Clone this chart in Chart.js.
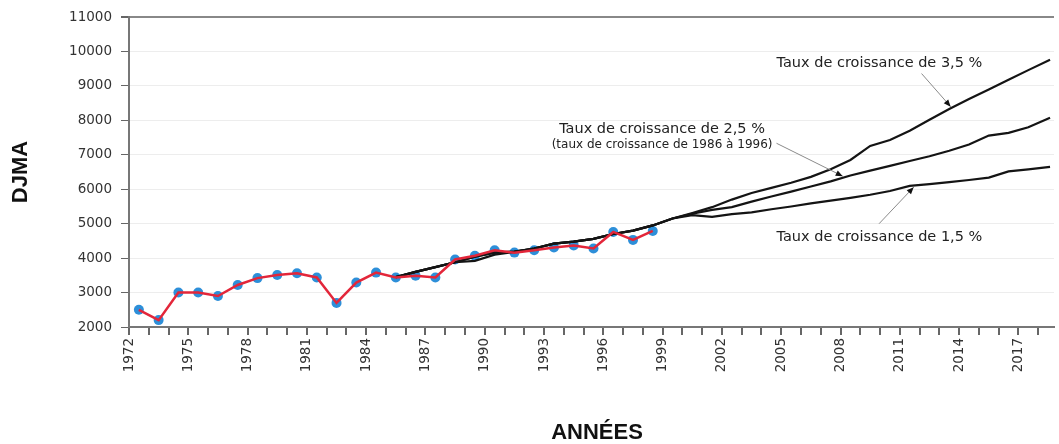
<!DOCTYPE html>
<html>
<head>
<meta charset="utf-8">
<script src="https://cdn.jsdelivr.net/npm/chart.js@4.4.1/dist/chart.umd.min.js"></script>
<style>
body{margin:0;background:#fff}
#wrap{width:1059px;height:444px}
</style>
</head>
<body>
<div id="wrap"><canvas id="djma" width="1059" height="444"></canvas></div>
<script>

// DJMA observe (points bleus + ligne rouge)
const histYears = [1972.5, 1973.5, 1974.5, 1975.5, 1976.5, 1977.5, 1978.5, 1979.5, 1980.5, 1981.5,
    1982.5, 1983.5, 1984.5, 1985.5, 1986.5, 1987.5, 1988.5, 1989.5, 1990.5, 1991.5,
    1992.5, 1993.5, 1994.5, 1995.5, 1996.5, 1997.5, 1998.5];
const histValues = [2500, 2200, 3000, 3000, 2900, 3220, 3420, 3510, 3560, 3440,
    2700, 3290, 3580, 3440, 3490, 3440, 3960, 4070, 4230, 4160,
    4230, 4310, 4370, 4280, 4760, 4530, 4790];

// projections (lignes noires)
const projYears = [1985.5, 1986.5, 1987.5, 1988.5, 1989.5, 1990.5, 1991.5, 1992.5, 1993.5, 1994.5,
    1995.5, 1996.5, 1997.5, 1998.5, 1999.5, 2000.5, 2001.5, 2002.5, 2003.5, 2004.5,
    2005.5, 2006.5, 2007.5, 2008.5, 2009.5, 2010.5, 2011.5, 2012.5, 2013.5, 2014.5,
    2015.5, 2016.5, 2017.5, 2018.6];
const growth35 = [3450, 3600, 3740, 3880, 4040, 4160, 4190, 4280, 4420, 4480,
    4560, 4700, 4800, 4950, 5150, 5310, 5480, 5700, 5890, 6040,
    6190, 6360, 6580, 6850, 7260, 7430, 7700, 8020, 8330, 8620,
    8900, 9180, 9460, 9760];
const growth25 = [3450, 3600, 3740, 3880, 4040, 4160, 4190, 4280, 4420, 4480,
    4560, 4700, 4800, 4950, 5150, 5290, 5400, 5480, 5640, 5790,
    5930, 6080, 6230, 6400, 6540, 6680, 6820, 6960, 7120, 7300,
    7560, 7640, 7800, 8080];
const growth15 = [3450, 3600, 3740, 3880, 3920, 4100, 4180, 4280, 4420, 4480,
    4560, 4700, 4800, 4950, 5150, 5250, 5200, 5280, 5330, 5420,
    5500, 5590, 5670, 5750, 5840, 5950, 6100, 6150, 6210, 6270,
    6340, 6520, 6580, 6650];

const yearLabels = ['1972', '1975', '1978', '1981', '1984', '1987', '1990', '1993', '1996',
    '1999', '2002', '2005', '2008', '2011', '2014', '2017'];

function pts(xs, ys){
    return xs.map((x, i) => ({x: x, y: ys[i]}));
}

// textes + fleches, places en coordonnees du graphique
const notes = [
    {lines: [['Taux de croissance de 3,5 %', 14.5]], at: [2004.76, 9670], align: 'left',
     from: [2012.1, 9360], to: [2013.57, 8400]},
    {lines: [['Taux de croissance de 2,5 %', 14.5], ['(taux de croissance de 1986 à 1996)', 12]],
     at: [1998.97, 7740], align: 'center', gap: 15.5,
     from: [2004.76, 7336], to: [2008.11, 6380]},
    {lines: [['Taux de croissance de 1,5 %', 14.5]], at: [2004.76, 4596], align: 'left',
     from: [2009.95, 5000], to: [2011.7, 6060]}
];

const extras = {
    id: 'extras',
    afterDraw(chart){
        let c = chart.ctx;
        let xs = chart.scales.x;
        let ys = chart.scales.y;

        c.save();
        c.fillStyle = '#111';
        c.font = 'bold 22px "Liberation Sans", Arial, sans-serif';
        c.textAlign = 'center';
        c.textBaseline = 'middle';
        c.fillText('ANNÉES', 597, 433);
        c.save();
        c.translate(21, 172);
        c.rotate(-Math.PI / 2);
        c.fillText('DJMA', 0, 0);
        c.restore();

        notes.forEach(n => {
            let tx = xs.getPixelForValue(n.at[0]);
            let ty = ys.getPixelForValue(n.at[1]);
            c.fillStyle = '#222';
            c.textAlign = n.align;
            n.lines.forEach((l, i) => {
                c.font = l[1] + 'px "DejaVu Sans", sans-serif';
                c.fillText(l[0], tx, ty + i * (n.gap || 0));
            });

            let x1 = xs.getPixelForValue(n.from[0]);
            let y1 = ys.getPixelForValue(n.from[1]);
            let x2 = xs.getPixelForValue(n.to[0]);
            let y2 = ys.getPixelForValue(n.to[1]);
            c.strokeStyle = '#8a8a8a';
            c.lineWidth = 1;
            c.beginPath();
            c.moveTo(x1, y1);
            c.lineTo(x2, y2);
            c.stroke();

            let a = Math.atan2(y2 - y1, x2 - x1);
            c.fillStyle = '#111';
            c.beginPath();
            c.moveTo(x2, y2);
            c.lineTo(x2 - 7 * Math.cos(a) + 3 * Math.sin(a), y2 - 7 * Math.sin(a) - 3 * Math.cos(a));
            c.lineTo(x2 - 7 * Math.cos(a) - 3 * Math.sin(a), y2 - 7 * Math.sin(a) + 3 * Math.cos(a));
            c.closePath();
            c.fill();
        });
        c.restore();
    }
};

const tickFont = {family: '"DejaVu Sans", sans-serif', size: 13.5};

new Chart(document.getElementById('djma'), {
    type: 'line',
    data: {
        datasets: [
            {label: 'DJMA', data: pts(histYears, histValues), borderColor: '#e3263a', borderWidth: 2.5,
             pointRadius: 0, order: 1},
            {label: 'DJMA points', data: pts(histYears, histValues), showLine: false, pointRadius: 5,
             pointBackgroundColor: '#2d8fd9', pointBorderWidth: 0, order: 6},
            {label: '3,5 %', data: pts(projYears, growth35), borderColor: '#141414', borderWidth: 2.2,
             pointRadius: 0, order: 2},
            {label: '2,5 %', data: pts(projYears, growth25), borderColor: '#141414', borderWidth: 2.2,
             pointRadius: 0, order: 3},
            {label: '1,5 %', data: pts(projYears, growth15), borderColor: '#141414', borderWidth: 2.2,
             pointRadius: 0, order: 4}
        ]
    },
    options: {
        responsive: false,
        animation: false,
        layout: {padding: {top: 15, right: 0, left: 0, bottom: 0}},
        plugins: {legend: {display: false}, tooltip: {enabled: false}},
        scales: {
            x: {
                type: 'linear',
                min: 1972,
                max: 2018.8,
                afterFit(s){ s.height = 117; },
                border: {color: '#777', width: 2},
                grid: {drawOnChartArea: false, tickLength: 8, tickColor: '#666', lineWidth: 2},
                ticks: {
                    stepSize: 1, autoSkip: false, includeBounds: false,
                    minRotation: 90, maxRotation: 90, padding: 3,
                    color: '#333', font: tickFont,
                    callback: v => yearLabels.includes(String(v)) ? String(v) : ''
                }
            },
            y: {
                min: 2000,
                max: 11000,
                afterFit(s){ s.width = 129; },
                border: {color: '#777', width: 2},
                grid: {
                    color: ctx => ctx.tick && ctx.tick.value === 11000 ? '#888' : '#ededed',
                    lineWidth: ctx => ctx.tick && ctx.tick.value === 11000 ? 2 : 1,
                    tickColor: '#666', tickLength: 8
                },
                ticks: {stepSize: 1000, padding: 9, color: '#333', font: tickFont,
                    callback: v => String(v)}
            }
        }
    },
    plugins: [extras]
});
</script>
</body>
</html>
